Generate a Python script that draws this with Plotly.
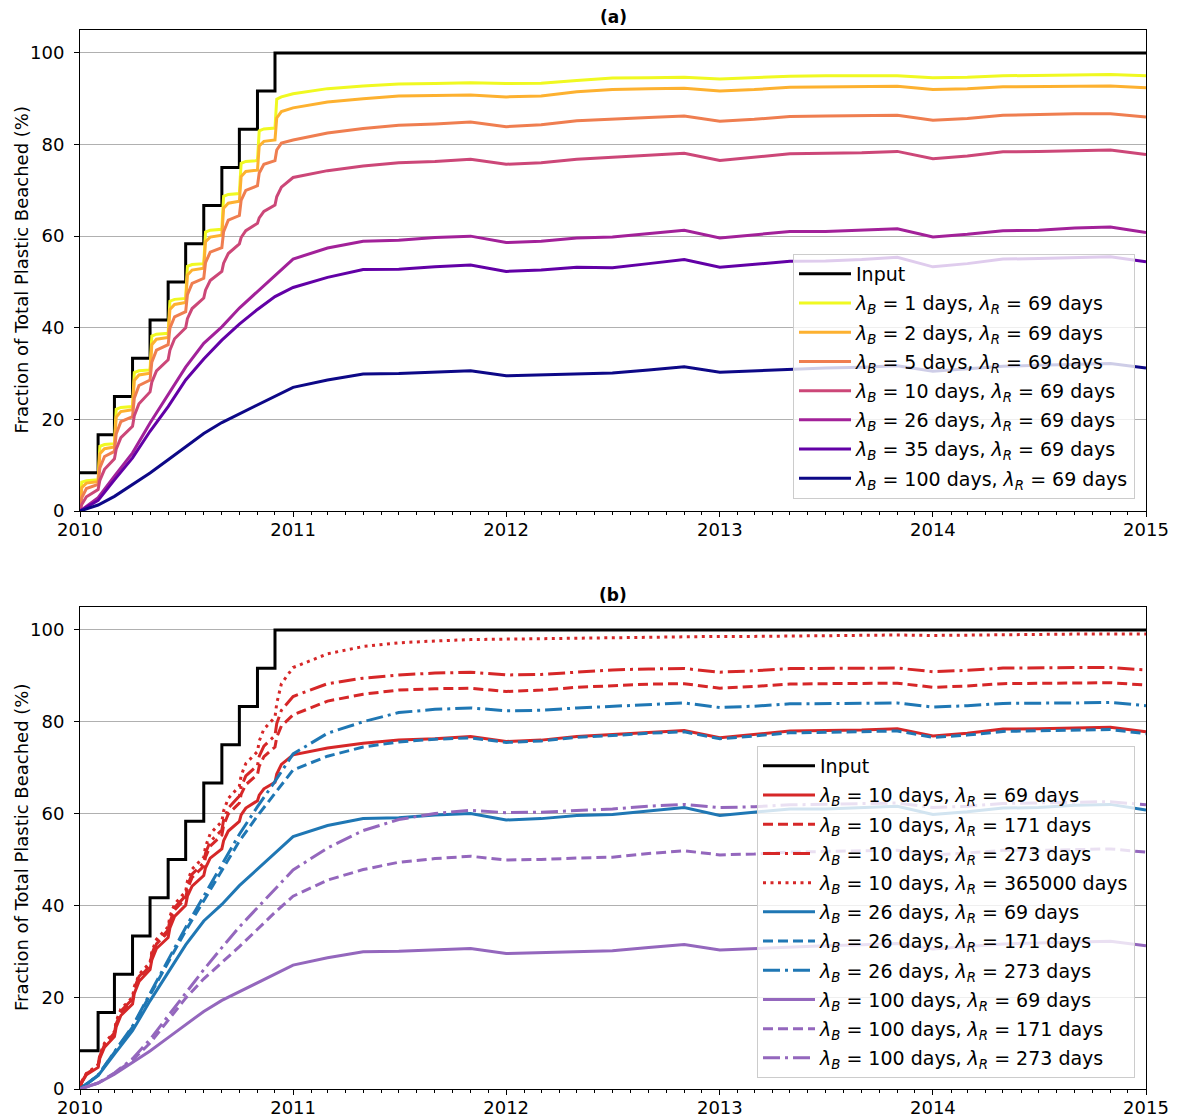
import pandas as pd
import plotly.graph_objects as go

# ---------------------------------------------------------------- time grids
MONTHS_2010 = pd.date_range("2010-01-01", "2010-12-01", freq="MS")
# three samples per month in 2010 (release day, +3 d, +11 d) for the fast-beaching runs
T_FINE_2010 = [(d + pd.Timedelta(days=k)).strftime("%Y-%m-%d") for d in MONTHS_2010 for k in (0, 3, 11)]
# monthly samples in 2010 for the slower runs
T_COARSE_2010 = [d.strftime("%Y-%m-%d") for d in MONTHS_2010]
# every second month from 2011 to 2015
T_LATE = [d.strftime("%Y-%m-%d") for d in pd.date_range("2011-01-01", "2015-01-01", freq="2MS")]

T_FINE = T_FINE_2010 + T_LATE
T_COARSE = T_COARSE_2010 + T_LATE

# ---------------------------------------------------------------- cumulative input (%)
INPUT_DATES = T_COARSE_2010 + ["2015-01-01"]
INPUT_PCT = [8.33, 16.67, 25.0, 33.33, 41.67, 50.0, 58.33, 66.67, 75.0, 83.33, 91.67, 100.0, 100.0]

# ---------------------------------------------------------------- beached fraction (%), lambda_R = 69 days
lb1_2010 = [0.0, 6.3, 6.6, 6.8, 14.1, 14.5, 14.7, 22.2, 22.6, 22.8, 30.2, 30.6,
            30.8, 38.2, 38.6, 38.8, 45.8, 46.2, 46.4, 53.4, 53.8, 54.0, 60.9, 61.3,
            61.5, 68.7, 69.1, 69.3, 75.9, 76.3, 76.5, 83.0, 83.4, 83.6, 89.9, 90.4]
lb1_late = [91.1, 92.2, 92.8, 93.2, 93.3, 93.5, 93.3, 93.4, 94.0, 94.5, 94.6, 94.7, 94.3,
            94.6, 94.9, 95.0, 95.0, 95.0, 94.6, 94.7, 95.0, 95.1, 95.2, 95.3, 95.0]

lb2_2010 = [0.0, 5.1, 6.1, 6.4, 12.5, 13.6, 14.0, 20.5, 21.7, 22.1, 28.5, 29.7,
            30.1, 36.3, 37.5, 37.9, 44.0, 45.1, 45.5, 51.5, 52.6, 53.0, 58.8, 59.8,
            60.2, 66.1, 67.2, 67.6, 73.0, 74.1, 74.4, 79.7, 80.7, 81.0, 85.8, 87.2]
lb2_late = [88.0, 89.3, 90.0, 90.6, 90.7, 90.8, 90.4, 90.6, 91.5, 92.0, 92.2, 92.3, 91.7,
            92.0, 92.5, 92.6, 92.7, 92.7, 92.0, 92.2, 92.6, 92.7, 92.8, 92.8, 92.4]

lb5_2010 = [0.0, 2.9, 4.9, 5.8, 9.4, 11.9, 13.0, 16.8, 19.5, 20.6, 24.6, 27.4,
            28.6, 32.5, 35.1, 36.3, 39.9, 42.4, 43.5, 47.2, 49.7, 50.8, 54.2, 56.5,
            57.5, 61.0, 63.5, 64.5, 67.8, 70.0, 71.0, 73.8, 75.7, 76.5, 78.8, 80.3]
lb5_late = [81.0, 82.5, 83.5, 84.2, 84.5, 84.9, 83.9, 84.3, 85.2, 85.6, 85.9, 86.2, 85.1,
            85.5, 86.1, 86.2, 86.3, 86.4, 85.3, 85.7, 86.4, 86.6, 86.7, 86.7, 86.0]

lb10_2010 = [0.0, 1.4, 3.1, 4.7, 6.7, 9.1, 11.4, 13.5, 16.0, 18.5, 20.8, 23.4,
             26.0, 28.1, 30.6, 33.0, 35.1, 37.6, 40.0, 42.0, 44.2, 46.5, 48.2, 50.3,
             52.3, 54.1, 56.2, 58.3, 59.7, 61.2, 62.8, 64.0, 65.4, 66.8, 68.6, 70.7]
lb10_late = [72.8, 74.3, 75.3, 76.0, 76.3, 76.8, 75.7, 76.0, 76.8, 77.2, 77.7, 78.1, 76.5,
             77.2, 78.0, 78.1, 78.2, 78.5, 76.9, 77.5, 78.4, 78.5, 78.7, 78.8, 77.8]

lb26_2010 = [0.0, 2.9, 7.6, 12.7, 19.2, 25.4, 31.4, 36.6, 40.2, 44.3, 47.9, 51.4]
lb26_late = [55.0, 57.4, 58.9, 59.1, 59.7, 60.0, 58.6, 58.9, 59.6, 59.8, 60.6, 61.3, 59.6,
             60.3, 61.0, 61.0, 61.3, 61.6, 59.8, 60.4, 61.2, 61.3, 61.8, 62.0, 60.8]

lb35_2010 = [0.0, 2.3, 6.8, 11.6, 17.4, 22.8, 28.6, 33.2, 37.3, 40.8, 44.0, 46.8]
lb35_late = [48.8, 51.0, 52.7, 52.8, 53.3, 53.7, 52.3, 52.6, 53.2, 53.1, 54.0, 54.9, 53.2,
             53.8, 54.5, 54.6, 54.9, 55.4, 53.3, 54.0, 55.0, 55.1, 55.3, 55.5, 54.4]

lb100_2010 = [0.0, 1.3, 3.2, 5.7, 8.3, 11.2, 14.1, 16.9, 19.3, 21.2, 23.2, 25.2]
lb100_late = [27.0, 28.6, 29.9, 30.0, 30.3, 30.6, 29.5, 29.7, 30.0, 30.1, 30.8, 31.5, 30.3,
              30.6, 31.0, 31.2, 31.4, 31.7, 30.5, 31.0, 31.6, 31.8, 32.0, 32.2, 31.2]

# ---------------------------------------------------------------- longer resuspension times
lb10_r171_2010 = [0.0, 1.5, 3.3, 5.0, 7.1, 9.6, 12.0, 14.2, 16.7, 19.3, 21.6, 24.2,
                  26.8, 29.0, 31.6, 34.2, 36.4, 39.0, 41.5, 43.6, 46.1, 48.5, 50.5, 52.9,
                  55.3, 57.4, 59.9, 62.3, 64.2, 66.3, 68.5, 70.3, 72.4, 74.5, 76.6, 79.1]
lb10_r171_late = [81.5, 84.5, 86.0, 86.9, 87.2, 87.3, 86.6, 86.9, 87.5, 87.9, 88.2, 88.3, 87.3,
                  87.7, 88.2, 88.3, 88.3, 88.4, 87.5, 87.8, 88.3, 88.4, 88.5, 88.5, 88.0]

lb10_r273_2010 = [0.0, 1.5, 3.3, 5.1, 7.2, 9.7, 12.2, 14.4, 17.0, 19.6, 21.9, 24.5,
                  27.1, 29.4, 32.0, 34.6, 36.9, 39.5, 42.1, 44.3, 46.8, 49.3, 51.4, 53.9,
                  56.4, 58.6, 61.2, 63.8, 65.8, 68.2, 70.5, 72.5, 74.7, 77.0, 79.6, 82.5]
lb10_r273_late = [85.5, 88.3, 89.5, 90.2, 90.6, 90.8, 90.2, 90.3, 90.8, 91.3, 91.5, 91.6, 90.8,
                  91.1, 91.6, 91.6, 91.6, 91.7, 90.9, 91.2, 91.7, 91.8, 91.8, 91.8, 91.3]

lb10_rinf_2010 = [0.0, 1.6, 3.4, 5.3, 7.5, 10.0, 12.5, 14.8, 17.4, 20.0, 22.3, 24.9,
                  27.6, 29.9, 32.6, 35.3, 37.6, 40.3, 43.0, 45.3, 47.9, 50.5, 52.8, 55.6,
                  58.3, 60.6, 63.3, 66.0, 68.3, 70.9, 73.5, 75.8, 78.4, 81.0, 84.0, 88.3]
lb10_rinf_late = [91.8, 94.8, 96.4, 97.2, 97.6, 97.9, 98.0, 98.1, 98.3, 98.4, 98.5, 98.6, 98.6,
                  98.6, 98.7, 98.8, 98.8, 98.9, 98.8, 98.9, 99.0, 99.0, 99.1, 99.1, 99.1]

lb26_r171_2010 = [0.0, 3.0, 8.0, 13.5, 20.5, 27.5, 34.5, 41.0, 47.5, 54.0, 59.5, 64.5]
lb26_r171_late = [69.5, 72.5, 74.5, 75.6, 76.2, 76.5, 75.5, 75.8, 76.6, 77.0, 77.5, 77.8, 76.3,
                  76.9, 77.6, 77.7, 77.8, 78.0, 76.6, 77.1, 77.9, 78.0, 78.2, 78.3, 77.4]

lb26_r273_2010 = [0.0, 3.0, 8.1, 13.7, 20.8, 28.0, 35.2, 42.0, 49.0, 55.5, 61.5, 67.0]
lb26_r273_late = [73.0, 77.5, 80.0, 82.0, 82.7, 83.0, 82.4, 82.5, 83.0, 83.4, 83.8, 84.1, 83.1,
                  83.4, 83.9, 84.0, 84.0, 84.1, 83.2, 83.5, 84.0, 84.0, 84.1, 84.2, 83.5]

lb100_r171_2010 = [0.0, 1.3, 3.4, 6.3, 10.0, 15.0, 19.8, 24.0, 27.5, 31.0, 34.8, 38.5]
lb100_r171_late = [42.0, 45.5, 47.8, 49.4, 50.2, 50.7, 49.9, 50.0, 50.3, 50.5, 51.3, 51.9, 51.0,
                   51.2, 51.6, 51.8, 51.9, 52.0, 51.0, 51.4, 52.0, 52.0, 52.2, 52.3, 51.6]

lb100_r273_2010 = [0.0, 1.3, 3.5, 6.6, 10.8, 16.0, 21.0, 26.0, 30.8, 35.3, 39.5, 43.6]
lb100_r273_late = [47.7, 52.5, 56.3, 58.7, 60.0, 60.7, 60.2, 60.3, 60.6, 61.0, 61.6, 62.0, 61.3,
                   61.5, 61.9, 62.0, 62.1, 62.3, 61.3, 61.6, 62.2, 62.3, 62.5, 62.6, 61.9]

# ---------------------------------------------------------------- styling
FONT = "DejaVu Sans"
LW = 3
DASH = "10px,5px"
DASHDOT = "17px,5px,3px,5px"
DOT = "3px,4.5px"
RED, BLUE, PURPLE = "#d62728", "#1f77b4", "#9467bd"
Y_TITLE = "Fraction of Total Plastic Beached (%)"


def label(lb, lr):
    return f"<i>λ<sub>B</sub></i> = {lb} days, <i>λ<sub>R</sub></i> = {lr} days"


fig = go.Figure()
_group = [0]


def _next_group():
    _group[0] += 1
    return f"g{_group[0]}"


def add(x, y, name, color, dash, panel, shape="linear"):
    fig.add_trace(go.Scatter(
        x=x, y=y, name=name, mode="lines",
        line=dict(color=color, width=LW, dash=dash, shape=shape),
        xaxis="x" if panel == 1 else "x2",
        yaxis="y" if panel == 1 else "y2",
        legend="legend" if panel == 1 else "legend2",
        legendgroup=_next_group(),
    ))


# panel (a): beaching timescale sweep
add(INPUT_DATES, INPUT_PCT, "Input", "black", "solid", 1, shape="hv")
add(T_FINE, lb1_2010 + lb1_late, label(1, 69), "#f0f921", "solid", 1)
add(T_FINE, lb2_2010 + lb2_late, label(2, 69), "#fdb130", "solid", 1)
add(T_FINE, lb5_2010 + lb5_late, label(5, 69), "#ef7e50", "solid", 1)
add(T_FINE, lb10_2010 + lb10_late, label(10, 69), "#cc4778", "solid", 1)
add(T_COARSE, lb26_2010 + lb26_late, label(26, 69), "#a22199", "solid", 1)
add(T_COARSE, lb35_2010 + lb35_late, label(35, 69), "#6200a6", "solid", 1)
add(T_COARSE, lb100_2010 + lb100_late, label(100, 69), "#0d0887", "solid", 1)

# panel (b): resuspension timescale sweep
add(INPUT_DATES, INPUT_PCT, "Input", "black", "solid", 2, shape="hv")
add(T_FINE, lb10_2010 + lb10_late, label(10, 69), RED, "solid", 2)
add(T_FINE, lb10_r171_2010 + lb10_r171_late, label(10, 171), RED, DASH, 2)
add(T_FINE, lb10_r273_2010 + lb10_r273_late, label(10, 273), RED, DASHDOT, 2)
add(T_FINE, lb10_rinf_2010 + lb10_rinf_late, label(10, 365000), RED, DOT, 2)
add(T_COARSE, lb26_2010 + lb26_late, label(26, 69), BLUE, "solid", 2)
add(T_COARSE, lb26_r171_2010 + lb26_r171_late, label(26, 171), BLUE, DASH, 2)
add(T_COARSE, lb26_r273_2010 + lb26_r273_late, label(26, 273), BLUE, DASHDOT, 2)
add(T_COARSE, lb100_2010 + lb100_late, label(100, 69), PURPLE, "solid", 2)
add(T_COARSE, lb100_r171_2010 + lb100_r171_late, label(100, 171), PURPLE, DASH, 2)
add(T_COARSE, lb100_r273_2010 + lb100_r273_late, label(100, 273), PURPLE, DASHDOT, 2)

# ---------------------------------------------------------------- layout
W, H = 1181, 1120
ML, MR, MT, MB = 80, 35, 30, 31
PLOT_H = H - MT - MB


def py(pix):
    """paper y for a pixel row"""
    return (H - MB - pix) / PLOT_H


def px(pix):
    return (pix - ML) / (W - ML - MR)


xaxis_common = dict(
    type="date", range=["2010-01-01", "2015-01-01"],
    dtick="M12", tick0="2010-01-01", tickformat="%Y",
    ticks="outside", ticklen=5, tickwidth=1, tickcolor="black",
    minor=dict(dtick="M1", ticks="outside", ticklen=3, tickwidth=1, tickcolor="black", showgrid=False),
    showline=True, linecolor="black", linewidth=1, mirror=True,
    showgrid=False, zeroline=False, automargin=False,
    tickfont=dict(family=FONT, size=18, color="black"),
    ticklabelstandoff=-3,
)
yaxis_common = dict(
    range=[0, 105], dtick=20, tick0=0,
    ticks="outside", ticklen=5, tickwidth=1, tickcolor="black",
    showline=True, linecolor="black", linewidth=1, mirror=True,
    showgrid=True, gridcolor="#b0b0b0", gridwidth=1, zeroline=False, automargin=False,
    tickfont=dict(family=FONT, size=18, color="black"),
    ticklabelstandoff=6,
)

legend_common = dict(
    bgcolor="rgba(255,255,255,0.8)", bordercolor="#cccccc", borderwidth=1,
    font=dict(family=FONT, size=19, color="black"),
    xanchor="right", yanchor="bottom",
    traceorder="grouped", tracegroupgap=1.5, itemwidth=52,
)


def panel_title(text, pix):
    return dict(text=f"<b>{text}</b>", x=0.5, y=py(pix), xref="paper", yref="paper",
                showarrow=False, font=dict(family=FONT, size=17, color="black"),
                xanchor="center", yanchor="middle")


def y_title(pix):
    return dict(text=Y_TITLE, x=px(21), y=py(pix), xref="paper", yref="paper",
                showarrow=False, textangle=-90, font=dict(family=FONT, size=18, color="black"),
                xanchor="center", yanchor="middle")


fig.update_layout(
    width=W, height=H,
    margin=dict(l=ML, r=MR, t=MT, b=MB, autoexpand=False),
    paper_bgcolor="white", plot_bgcolor="white",
    font=dict(family=FONT, color="black"),
    xaxis=dict(xaxis_common, domain=[0, 1], anchor="y"),
    yaxis=dict(yaxis_common, domain=[py(511), 1], anchor="x"),
    xaxis2=dict(xaxis_common, domain=[0, 1], anchor="y2"),
    yaxis2=dict(yaxis_common, domain=[0, py(607)], anchor="x2"),
    legend=dict(legend_common, x=px(1135), y=py(499)),
    legend2=dict(legend_common, x=px(1135), y=py(1078)),
    annotations=[
        panel_title("(a)", 17),
        panel_title("(b)", 595),
        y_title((30 + 511) / 2),
        y_title((607 + 1089) / 2),
    ],
)

fig.write_html("out.html")
